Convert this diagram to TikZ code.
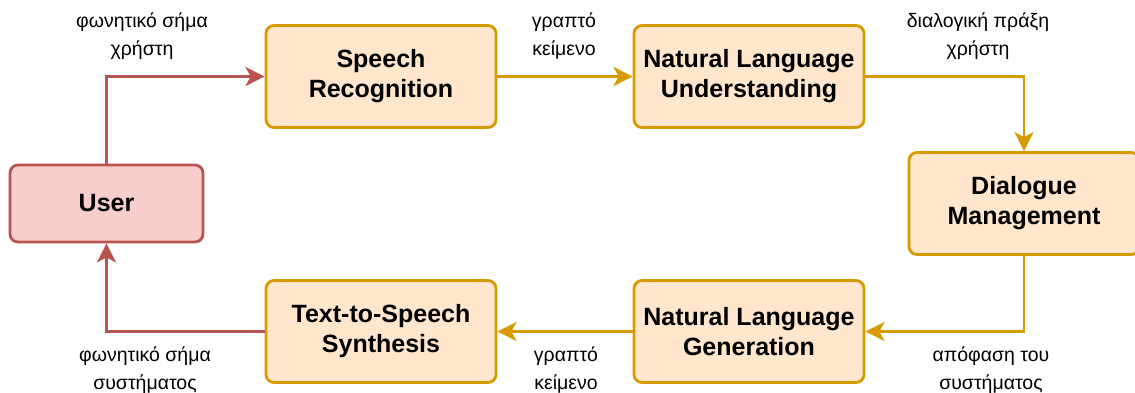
\documentclass[tikz,border=0pt]{standalone}
\usepackage{fontspec}
\setmainfont{Liberation Sans}
\usepackage{tikz}
\usetikzlibrary{arrows.meta,positioning}

\definecolor{boxfill}{HTML}{FFE6CC}
\definecolor{boxline}{HTML}{D79B00}
\definecolor{userfill}{HTML}{F8CECC}
\definecolor{userline}{HTML}{B85450}

\begin{document}
\begin{tikzpicture}[x=1pt,y=-1pt]

\tikzset{
  block/.style={rectangle, rounded corners=8pt, draw=boxline, fill=boxfill,
                line width=2.8pt, minimum width=230pt, minimum height=102pt,
                align=center, font=\fontsize{25}{30}\selectfont\bfseries},
  userblock/.style={block, draw=userline, fill=userfill,
                minimum width=193pt, minimum height=77pt},
  flow/.style={boxline, line width=2.8pt,
                -{Stealth[length=19pt, width=19pt, inset=5pt]}},
  userflow/.style={flow, userline},
  lbl/.style={align=center, inner sep=0pt, font=\fontsize{19.5}{27.5}\selectfont}
}

\useasboundingbox (0,0) rectangle (1135,392);

% Blocks
\node[userblock] (user) at (106.5, 203.5) {User};
\node[block] (sr)  at (381, 76.5)  {Speech\\Recognition};
\node[block] (nlu) at (749, 76.5)  {Natural Language\\Understanding};
\node[block] (dm)  at (1024, 203.5) {Dialogue\\Management};
\node[block] (nlg) at (749, 331.5) {Natural Language\\Generation};
\node[block] (tts) at (381, 331.5) {Text-to-Speech\\Synthesis};

% Labels
\node[lbl] (l1) at (142, 36)    {φωνητικό σήμα\\χρήστη};
\node[lbl] (l2) at (564, 36)    {γραπτό\\κείμενο};
\node[lbl] (l3) at (978, 36)    {διαλογική πράξη\\χρήστη};
\node[lbl] (l4) at (991, 370) {απόφαση του\\συστήματος};
\node[lbl] (l5) at (566, 370) {γραπτό\\κείμενο};
\node[lbl] (l6) at (145, 370) {φωνητικό σήμα\\συστήματος};

% Connectors
\draw[userflow] (user.north) |- (sr.west);
\draw[flow] (sr.east) -- (nlu.west);
\draw[flow] (nlu.east) -| (dm.north);
\draw[flow] (dm.south) |- (nlg.east);
\draw[flow] (nlg.west) -- (tts.east);
\draw[userflow] (tts.west) -| (user.south);

\end{tikzpicture}
\end{document}
